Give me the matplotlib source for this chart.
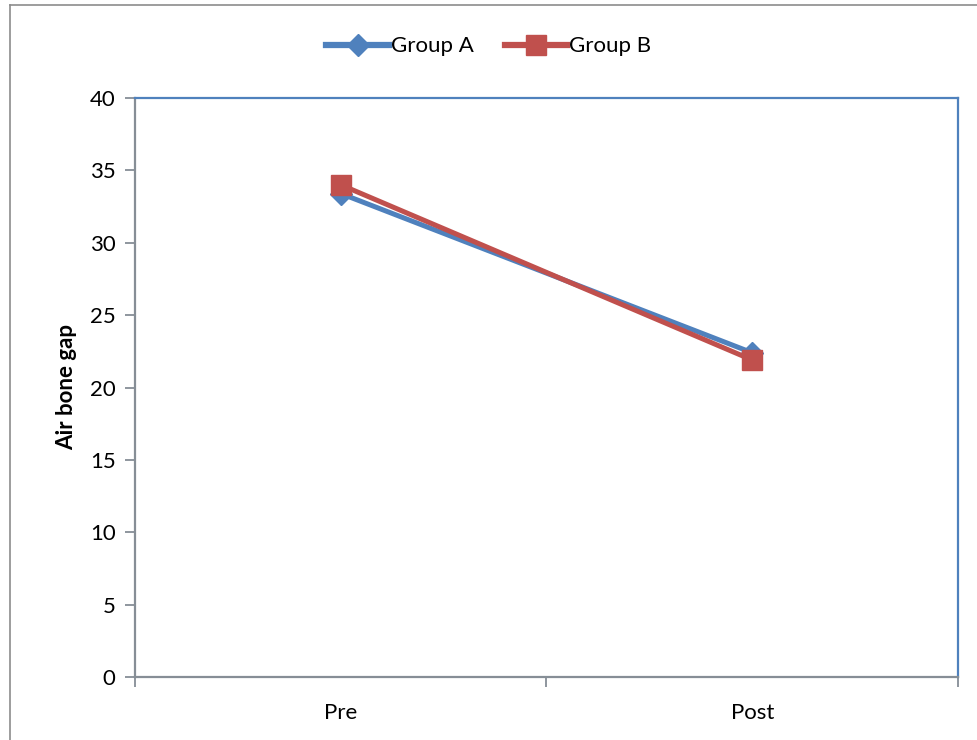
import matplotlib
matplotlib.use("Agg")
import matplotlib.pyplot as plt
from matplotlib.lines import Line2D

categories = ["Pre", "Post"]
group_a = [33.4, 22.4]
group_b = [34.0, 21.9]
series_names = ["Group A", "Group B"]
y_ticks = [0, 5, 10, 15, 20, 25, 30, 35, 40]

plt.rcParams['font.family'] = ['Lato', 'DejaVu Sans']

W, H = 978, 740
fig = plt.figure(figsize=(W/100, H/100), dpi=100)
ax = fig.add_axes([135/W, 1-677/H, (958-135)/W, (677-98)/H])

blue = "#4F81BD"
red = "#C0504D"
x = list(range(len(categories)))
ax.plot(x, group_a, color=blue, lw=3.6, marker="D", markersize=11, label=series_names[0], zorder=3)
ax.plot(x, group_b, color=red, lw=3.6, marker="s", markersize=14, label=series_names[1], zorder=4)

ax.set_xlim(-0.5, len(categories) - 0.5)
ax.set_ylim(0, 40)
ax.set_yticks(y_ticks)
ax.tick_params(axis='y', labelsize=16, length=7, width=1.3, color="#868E96", direction='out', pad=7)
ax.set_xticks([i - 0.5 for i in range(len(categories) + 1)])
ax.set_xticklabels([])
ax.set_xticks(x, minor=True)
ax.set_xticklabels(categories, minor=True)
ax.tick_params(axis='x', which='major', length=7, width=1.3, color="#868E96", direction='out')
ax.tick_params(axis='x', which='minor', length=0, labelsize=16, pad=19)

for s in ['left', 'bottom']:
    ax.spines[s].set_color("#868E96")
    ax.spines[s].set_linewidth(1.6)
for s in ['top', 'right']:
    ax.spines[s].set_color(blue)
    ax.spines[s].set_linewidth(1.6)

ax.set_ylabel("Air bone gap", fontsize=16, fontweight='bold', labelpad=9)

leg = fig.legend(loc='upper center', bbox_to_anchor=(0.5, 0.978), ncol=2, frameon=False,
                 fontsize=16, handlelength=2.8, handletextpad=0.1, columnspacing=1.4)
for h in leg.legend_handles:
    h.set_linewidth(4.5)

# outer chart border (left and top visible)
fig.add_artist(Line2D([10/W, 10/W], [0, 1-5/H], transform=fig.transFigure, color="#8c8c8c", lw=1.2))
fig.add_artist(Line2D([10/W, 1], [1-5/H, 1-5/H], transform=fig.transFigure, color="#8c8c8c", lw=1.2))

fig.savefig("out.png", dpi=100)
